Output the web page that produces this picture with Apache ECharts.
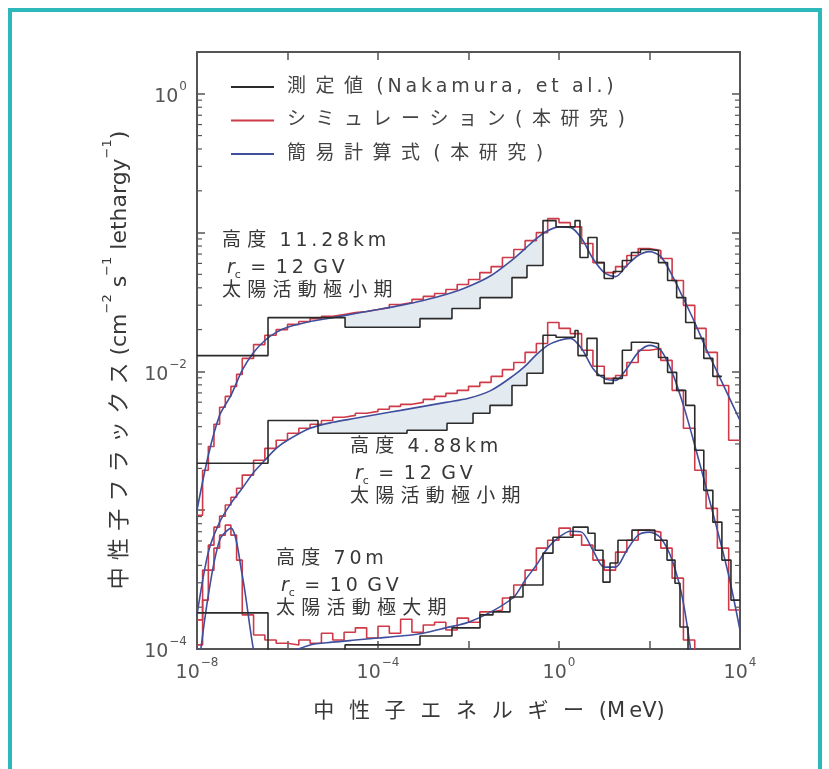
<!DOCTYPE html>
<html>
<head>
<meta charset="utf-8">
<title>中性子フラックス</title>
<script src="https://cdn.jsdelivr.net/npm/echarts@6.0.0/dist/echarts.min.js"></script>
<style>
  html, body { margin: 0; padding: 0; background: #fff; }
  #chart { width: 829px; height: 769px; }
</style>
</head>
<body>
<div id="chart"></div>
<script>
const SERIES_NAMES = ['測定値 (Nakamura, et al.)', 'シミュレーション(本研究)', '簡易計算式 (本研究)']

// axis ranges (MeV, flux)
const X_MIN = 1e-8, X_MAX = 1e4
const Y_MIN = 1e-4, Y_MAX = 2
const X_LABEL_EXPS = [-8, -4, 0, 4]
const Y_LABEL_EXPS = [-4, -2, 0]
const MINOR_Y_TICKS = [
  2e-4, 3e-4, 4e-4, 5e-4, 6e-4, 7e-4, 8e-4, 9e-4,
  2e-3, 3e-3, 4e-3, 5e-3, 6e-3, 7e-3, 8e-3, 9e-3,
  2e-2, 3e-2, 4e-2, 5e-2, 6e-2, 7e-2, 8e-2, 9e-2,
  0.2, 0.3, 0.4, 0.5, 0.6, 0.7, 0.8, 0.9
]

// 簡易計算式 (smooth curves)
const BLUE_E = [1e-8, 1.78e-8, 3.16e-8, 5.62e-8, 1e-7, 1.78e-7, 3.16e-7, 5.62e-7, 1e-6,
  3.16e-6, 1e-5, 3.16e-5, 1e-4, 3.16e-4, 1e-3, 3.16e-3, 1e-2, 3.16e-2, 0.1,
  0.178, 0.316, 0.562, 1, 1.78, 3.16, 5.62, 10, 17.8, 31.6, 56.2, 100,
  178, 316, 562, 1000, 1780, 3160, 5620, 10000]
const BLUE_HIGH = [1.0e-3, 2.49e-3, 4.82e-3, 6.71e-3, 1.02e-2, 1.37e-2, 1.67e-2, 1.91e-2, 2.08e-2,
  2.29e-2, 2.44e-2, 2.61e-2, 2.79e-2, 2.99e-2, 3.24e-2, 3.58e-2, 4.09e-2, 4.91e-2, 6.50e-2,
  7.67e-2, 9.06e-2, 0.103, 0.110, 0.109, 9.06e-2, 6.50e-2, 5.15e-2, 4.82e-2, 5.80e-2, 6.84e-2, 7.29e-2,
  6.71e-2, 4.91e-2, 3.35e-2, 2.25e-2, 1.46e-2, 9.84e-3, 6.61e-3, 4.43e-3]
const BLUE_MID = [1.76e-4, 4.99e-4, 8.20e-4, 1.12e-3, 1.44e-3, 1.87e-3, 2.29e-3, 2.79e-3, 3.19e-3,
  3.89e-3, 4.30e-3, 4.59e-3, 4.91e-3, 5.24e-3, 5.60e-3, 5.98e-3, 6.40e-3, 7.30e-3, 9.35e-3,
  1.09e-2, 1.32e-2, 1.54e-2, 1.67e-2, 1.73e-2, 1.46e-2, 1.05e-2, 8.91e-3, 8.61e-3, 1.05e-2, 1.37e-2, 1.54e-2,
  1.42e-2, 9.84e-3, 5.69e-3, 2.94e-3, 1.46e-3, 7.18e-4, 3.40e-4, 1.37e-4]
const BLUE_LOW = [5.98e-5, 2.44e-4, 6.08e-4, 7.43e-4, 3.40e-4, 9.8e-5, 4.3e-5, 6.0e-5, 9.0e-5,
  1.07e-4, 1.12e-4, 1.16e-4, 1.20e-4, 1.24e-4, 1.30e-4, 1.42e-4, 1.56e-4, 1.85e-4, 2.37e-4,
  3.13e-4, 4.02e-4, 5.33e-4, 6.39e-4, 7.06e-4, 6.95e-4, 5.15e-4, 3.89e-4, 3.89e-4, 5.15e-4, 6.61e-4, 6.95e-4,
  6.29e-4, 4.37e-4, 2.14e-4, 5.98e-5, 1.5e-5, 4e-6, 1e-6, 3e-7]

// シミュレーション (histogram, bin edges)
const RED_E = [1e-8, 1.33e-8, 1.78e-8, 2.37e-8, 3.16e-8, 4.22e-8, 5.62e-8, 7.5e-8, 1e-7,
  1.78e-7, 3.16e-7, 5.62e-7, 1e-6, 1.78e-6, 3.16e-6, 5.62e-6, 1e-5, 1.78e-5, 3.16e-5, 5.62e-5,
  1e-4, 1.78e-4, 3.16e-4, 5.62e-4, 1e-3, 1.78e-3, 3.16e-3, 5.62e-3, 1e-2, 1.78e-2, 3.16e-2, 5.62e-2,
  0.1, 0.178, 0.316, 0.562, 1, 1.78, 3.16, 5.62, 10, 17.8, 31.6, 56.2,
  100, 178, 316, 562, 1000, 1780, 3160, 5620, 10000]
const RED_HIGH = [9.20e-4, 1.94e-3, 2.88e-3, 4.16e-3, 5.51e-3, 6.61e-3, 7.80e-3, 9.51e-3,
  1.24e-2, 1.56e-2, 1.82e-2, 2.00e-2, 2.18e-2, 2.29e-2, 2.40e-2, 2.49e-2, 2.57e-2, 2.65e-2, 2.70e-2, 2.79e-2,
  2.88e-2, 3.03e-2, 3.13e-2, 3.30e-2, 3.47e-2, 3.64e-2, 3.89e-2, 4.23e-2, 4.59e-2, 5.15e-2, 5.69e-2, 6.61e-2,
  7.55e-2, 8.75e-2, 0.100, 0.126, 0.118, 0.110, 8.34e-2, 6.08e-2, 5.15e-2, 5.69e-2, 6.84e-2, 7.67e-2,
  7.43e-2, 6.50e-2, 4.52e-2, 2.99e-2, 2.04e-2, 1.37e-2, 7.92e-3, 3.19e-3]
const RED_MID = [1.62e-4, 3.70e-4, 5.60e-4, 7.55e-4, 9.06e-4, 1.09e-3, 1.24e-3, 1.44e-3,
  1.79e-3, 2.29e-3, 2.79e-3, 3.19e-3, 3.58e-3, 3.89e-3, 4.16e-3, 4.43e-3, 4.67e-3, 4.82e-3, 4.99e-3, 5.15e-3,
  5.33e-3, 5.60e-3, 5.79e-3, 5.98e-3, 6.29e-3, 6.61e-3, 6.95e-3, 7.30e-3, 7.80e-3, 8.34e-3, 9.20e-3, 1.03e-2,
  1.16e-2, 1.37e-2, 1.59e-2, 2.25e-2, 2.04e-2, 1.87e-2, 1.42e-2, 1.09e-2, 8.91e-3, 9.35e-3, 1.16e-2, 1.42e-2,
  1.46e-2, 1.20e-2, 7.30e-3, 3.89e-3, 1.94e-3, 1.03e-3, 5.33e-4, 1.91e-4]
const RED_LOW = [1.07e-4, 2.25e-4, 3.70e-4, 5.33e-4, 6.61e-4, 7.80e-4, 6.61e-4, 4.37e-4,
  1.76e-4, 1.26e-4, 1.16e-4, 1.10e-4, 1.07e-4, 1.16e-4, 1.10e-4, 1.30e-4, 1.16e-4, 1.32e-4, 1.42e-4, 1.20e-4,
  1.46e-4, 1.30e-4, 1.64e-4, 1.32e-4, 1.49e-4, 1.56e-4, 1.37e-4, 1.67e-4, 1.56e-4, 1.85e-4, 1.91e-4, 2.33e-4,
  2.89e-4, 3.70e-4, 5.33e-4, 6.08e-4, 7.43e-4, 6.61e-4, 5.60e-4, 4.37e-4, 3.70e-4, 4.99e-4, 6.08e-4, 7.18e-4,
  6.95e-4, 5.33e-4, 3.24e-4, 1.16e-4, 4.3e-5, 1e-5, 2e-6, 5e-7]

// 測定値 (step histograms, bin edges + bin values)
const BLACK_HIGH_E = [1e-8, 3.71e-7, 1.87e-5, 8.47e-4, 4.31e-3, 1.80e-2, 9.14e-2, 0.196, 0.443, 0.859,
  2.26, 2.91, 4.38, 6.92, 10, 15.8, 25.1, 39.8, 63.1, 100, 158, 251, 398, 631, 1000, 1585, 2512, 3981]
const BLACK_HIGH = [1.30e-2, 2.44e-2, 2.08e-2, 2.40e-2, 2.84e-2, 3.40e-2, 4.74e-2, 5.80e-2, 0.122,
  0.110, 0.122, 6.61e-2, 9.21e-2, 6.08e-2, 4.67e-2, 5.24e-2, 6.29e-2, 7.18e-2, 7.55e-2, 7.43e-2,
  6.08e-2, 4.52e-2, 3.40e-2, 2.25e-2, 1.73e-2, 1.24e-2, 9.20e-3]
const BLACK_MID_E = [1e-8, 3.71e-7, 4.72e-6, 4.38e-4, 3.35e-3, 1.26e-2, 2.98e-2, 9.14e-2, 0.196, 0.443,
  0.859, 2.26, 2.63, 4.16, 6.92, 10, 15.8, 25.1, 39.8, 63.1, 100, 158, 251, 398, 631, 1000,
  1585, 2512, 3981, 6310, 10000]
const BLACK_MID = [2.18e-3, 4.43e-3, 3.58e-3, 3.77e-3, 4.23e-3, 4.99e-3, 5.69e-3, 7.92e-3, 9.69e-3,
  1.82e-2, 1.76e-2, 1.97e-2, 1.30e-2, 1.73e-2, 9.35e-3, 8.20e-3, 8.91e-3, 1.42e-2, 1.62e-2, 1.62e-2,
  1.59e-2, 1.26e-2, 9.84e-3, 7.30e-3, 5.69e-3, 2.70e-3, 1.39e-3, 8.20e-4, 4.37e-4, 2.25e-4]
const BLACK_LOW_E = [1e-8, 3.71e-7, 1.87e-5, 8.47e-4, 4.31e-3, 1.80e-2, 3.47e-2, 8.26e-2, 0.160, 0.443,
  0.736, 2.04, 4.38, 6.25, 9.38, 13.4, 20.1, 41.0, 132, 244, 366, 472, 710, 1000]
const BLACK_LOW = [1.82e-4, 7.67e-5, 1.07e-4, 1.24e-4, 1.42e-4, 1.76e-4, 1.85e-4, 2.37e-4, 2.89e-4,
  4.91e-4, 6.39e-4, 7.55e-4, 6.83e-4, 5.15e-4, 3.03e-4, 4.16e-4, 6.08e-4, 7.18e-4, 6.08e-4, 4.37e-4,
  2.98e-4, 1.44e-4, 5.98e-5]

// energy ranges where the gap between measurement and formula is shaded
const SHADE_HIGH = [1.87e-5, 0.443]
const SHADE_MID = [4.72e-6, 0.443]

const COLORS = { black: '#2b2b2b', red: '#cf3a48', blue: '#3f4f9c', axis: '#555', text: '#383838', shade: '#e3eaf0' }
const FONT = '"DejaVu Sans", "Noto Sans CJK JP", sans-serif'

// the original lettering is widely tracked: pad between glyphs, widen word spaces
const WORD_GAP = '\u2002\u2009'
const isCJK = c => /[\u3000-\u9fff\uff00-\uffef]/.test(c)
function spread(s, cjkGap, latinGap) {
  const ch = [...s]
  let out = ch[0]
  for (let i = 1; i < ch.length; i++) {
    const a = ch[i - 1], b = ch[i]
    if (b === ' ') out += WORD_GAP
    else if (a === ' ') out += b
    else out += (isCJK(a) || isCJK(b) ? cjkGap : latinGap) + b
  }
  return out
}
const legendText = s => spread(s, '\u2002', '\u2009')
const noteText = s => spread(s, '\u2004', '\u2009')

function stepData(edges, vals) {
  const d = vals.map((v, i) => [edges[i], v])
  d.push([edges[edges.length - 1], vals[vals.length - 1]])
  return d
}

function logInterp(x, xs, ys) {
  const lx = Math.log10(x)
  for (let i = 0; i < xs.length - 1; i++) {
    if (x >= xs[i] && x <= xs[i + 1]) {
      const a = Math.log10(xs[i]), b = Math.log10(xs[i + 1])
      const t = (lx - a) / (b - a)
      return Math.pow(10, Math.log10(ys[i]) + t * (Math.log10(ys[i + 1]) - Math.log10(ys[i])))
    }
  }
  return ys[ys.length - 1]
}

// polygon between the formula curve (top) and the measured steps (bottom)
function shadePoints(range, curveF, edges, vals) {
  const [lo, hi] = range
  const pts = [[lo, logInterp(lo, BLUE_E, curveF)]]
  BLUE_E.forEach((e, i) => { if (e > lo && e < hi) pts.push([e, curveF[i]]) })
  pts.push([hi, logInterp(hi, BLUE_E, curveF)])
  for (let i = vals.length - 1; i >= 0; i--) {
    const a = Math.max(edges[i], lo), b = Math.min(edges[i + 1], hi)
    if (b > a) pts.push([b, vals[i]], [a, vals[i]])
  }
  return pts
}

function powLabel(v, exps) {
  const l = Math.log10(v)
  const e = Math.round(l)
  if (Math.abs(l - e) > 1e-6 || !exps.includes(e)) return ''
  return '{b|10}{e|' + (e < 0 ? '\u2212' + (-e) : e) + '}'
}

const LABEL_RICH = {
  b: { fontFamily: FONT, fontSize: 19, color: COLORS.axis, lineHeight: 26, verticalAlign: 'bottom' },
  e: { fontFamily: FONT, fontSize: 12, color: COLORS.axis, lineHeight: 26, verticalAlign: 'top', padding: [0, 0, 0, 1] }
}

const axisCommon = {
  type: 'log', logBase: 10,
  axisLine: { onZero: false, lineStyle: { color: COLORS.axis, width: 2 } },
  axisTick: { inside: true, length: 8, lineStyle: { color: COLORS.axis, width: 1.5 } },
  splitLine: { show: false },
  minorTick: { show: false }
}

const chart = echarts.init(document.getElementById('chart'), null, { renderer: 'canvas' })

const lineSeries = (name, data, color, step) => ({
  name, type: 'line', data, step: step ? 'end' : false, smooth: step ? false : 0.3,
  symbol: 'none', silent: true, clip: true,
  itemStyle: { color }, lineStyle: { color, width: 1.6 }
})

const shadeSeries = (pts) => ({
  type: 'custom', silent: true, clip: true, z: 1,
  data: [[1, 1]],
  renderItem: (params, api) => ({
    type: 'polygon',
    shape: { points: pts.map(p => api.coord(p)) },
    style: { fill: COLORS.shade }
  })
})

const tickSeries = {
  type: 'custom', silent: true, clip: false, z: 5,
  data: MINOR_Y_TICKS.map(v => [X_MIN, v]),
  renderItem: (params, api) => {
    const v = api.value(1)
    const l = api.coord([X_MIN, v]), r = api.coord([X_MAX, v])
    const st = { stroke: COLORS.axis, lineWidth: 1.2 }
    return {
      type: 'group', children: [
        { type: 'line', shape: { x1: l[0], y1: l[1], x2: l[0] + 5, y2: l[1] }, style: st },
        { type: 'line', shape: { x1: r[0], y1: r[1], x2: r[0] - 5, y2: r[1] }, style: st }
      ]
    }
  }
}

const NOTE_RICH = {
  i: { fontFamily: FONT, fontSize: 19, fontStyle: 'italic', color: COLORS.text, lineHeight: 24, verticalAlign: 'bottom' },
  s: { fontFamily: FONT, fontSize: 11, color: COLORS.text, lineHeight: 24, verticalAlign: 'bottom', padding: [0, 0, -3, 0] },
  n: { fontFamily: FONT, fontSize: 19, color: COLORS.text, lineHeight: 24, verticalAlign: 'bottom' }
}

function note(x, y, alt, rc, period) {
  const lines = [
    noteText('高度') + WORD_GAP + noteText(alt),
    '{i|r}{s|c}{n|\u2002=\u2002' + rc + '\u2002G\u2009V}',
    noteText(period)
  ]
  return lines.map((t, i) => ({
    type: 'text', x: x + (i === 1 ? 5 : 0), y: y + i * 25, silent: true,
    style: { text: t, fill: COLORS.text, fontSize: 19, fontFamily: FONT, verticalAlign: 'middle', rich: NOTE_RICH }
  }))
}

const yTitle = '{a|' + [...'中性子フラックス'].join('\u2004') + ' (cm}{s|\u22122}{a| s}{s|\u22121}{a| lethargy}{s|\u22121}{a|)}'
const xTitle = [...'中性子エネルギー'].join('\u2002\u2009') + WORD_GAP + '(M\u2009eV)'

chart.setOption({
  animation: false,
  backgroundColor: '#fff',
  grid: { left: 197, right: 89, top: 52, bottom: 120 },
  legend: {
    data: SERIES_NAMES, orient: 'vertical', left: 231, top: 76, padding: 0,
    itemWidth: 43, itemHeight: 2, itemGap: 11.5, icon: 'rect', selectedMode: false,
    formatter: n => legendText(n),
    textStyle: { fontFamily: FONT, fontSize: 19, color: '#444', lineHeight: 22, padding: [0, 0, 0, 8] }
  },
  xAxis: [
    { ...axisCommon, position: 'bottom', min: X_MIN, max: X_MAX, interval: 2,
      axisLabel: { margin: 8, formatter: v => powLabel(v, X_LABEL_EXPS), rich: LABEL_RICH } },
    { ...axisCommon, position: 'top', min: X_MIN, max: X_MAX, interval: 2, axisLabel: { show: false } }
  ],
  yAxis: [
    { ...axisCommon, position: 'left', min: Y_MIN, max: Y_MAX, interval: 1,
      axisLabel: { margin: 10, formatter: v => powLabel(v, Y_LABEL_EXPS), rich: LABEL_RICH } },
    { ...axisCommon, position: 'right', min: Y_MIN, max: Y_MAX, interval: 1, axisLabel: { show: false } }
  ],
  graphic: [
    { type: 'rect', shape: { x: 10, y: 10, width: 810, height: 800 }, silent: true,
      style: { fill: 'none', stroke: '#2db8bb', lineWidth: 4 } },
    { type: 'text', x: 489, y: 712, silent: true,
      style: { text: xTitle, fill: COLORS.text,
        fontSize: 21, fontFamily: FONT, align: 'center', verticalAlign: 'middle' } },
    { type: 'text', x: 116, y: 360, rotation: Math.PI / 2, silent: true,
      style: { text: yTitle, align: 'center', verticalAlign: 'middle', fill: COLORS.text,
        rich: {
          a: { fontFamily: FONT, fontSize: 22, color: COLORS.text, lineHeight: 30, verticalAlign: 'bottom' },
          s: { fontFamily: FONT, fontSize: 13, color: COLORS.text, lineHeight: 30, verticalAlign: 'top' }
        } } },
    ...note(222, 241, '11.28km', '1\u20092', '太陽活動極小期'),
    ...note(350, 447, '4.88km', '1\u20092', '太陽活動極小期'),
    ...note(276, 559, '70m', '1\u20090', '太陽活動極大期')
  ],
  series: [
    shadeSeries(shadePoints(SHADE_HIGH, BLUE_HIGH, BLACK_HIGH_E, BLACK_HIGH)),
    shadeSeries(shadePoints(SHADE_MID, BLUE_MID, BLACK_MID_E, BLACK_MID)),
    tickSeries,
    lineSeries(SERIES_NAMES[1], stepData(RED_E, RED_HIGH), COLORS.red, true),
    lineSeries(SERIES_NAMES[1], stepData(RED_E, RED_MID), COLORS.red, true),
    lineSeries(SERIES_NAMES[1], stepData(RED_E, RED_LOW), COLORS.red, true),
    lineSeries(SERIES_NAMES[2], BLUE_E.map((e, i) => [e, BLUE_HIGH[i]]), COLORS.blue, false),
    lineSeries(SERIES_NAMES[2], BLUE_E.map((e, i) => [e, BLUE_MID[i]]), COLORS.blue, false),
    lineSeries(SERIES_NAMES[2], BLUE_E.map((e, i) => [e, BLUE_LOW[i]]), COLORS.blue, false),
    lineSeries(SERIES_NAMES[0], stepData(BLACK_HIGH_E, BLACK_HIGH), COLORS.black, true),
    lineSeries(SERIES_NAMES[0], stepData(BLACK_MID_E, BLACK_MID), COLORS.black, true),
    lineSeries(SERIES_NAMES[0], stepData(BLACK_LOW_E, BLACK_LOW), COLORS.black, true)
  ]
})
</script>
</body>
</html>
